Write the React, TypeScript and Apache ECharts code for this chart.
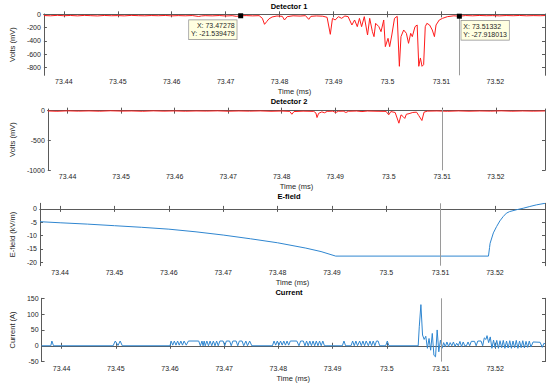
import React, { useEffect, useRef } from "react";
import * as echarts from "echarts";

const X_MIN = 73.4363;
const X_MAX = 73.5292;
const xTicks = [73.44, 73.45, 73.46, 73.47, 73.48, 73.49, 73.5, 73.51, 73.52];
const cursorT = 73.51332;

const titles = ["Detector 1", "Detector 2", "E-field", "Current"];
const yNames = ["Volts (mV)", "Volts (mV)", "E-field (kV/m)", "Current (A)"];
const yTicks1 = [-800, -600, -400, -200, 0];
const yTicks2 = [-1000, -500, 0];
const yTicks3 = [-20, -15, -10, -5, 0];
const yTicks4 = [-50, 0, 50, 100, 150];

const det1: [number, number][] = [
  [73.4363, -18], [73.4375, -22], [73.4388, -15], [73.44, -21], [73.4412, -17], [73.4425, -23],
  [73.4438, -16], [73.445, -20], [73.4462, -24], [73.4475, -17], [73.4488, -21], [73.45, -19],
  [73.4512, -23], [73.4525, -16], [73.4538, -20], [73.455, -22], [73.4562, -18], [73.4575, -21],
  [73.4588, -17], [73.46, -23], [73.4612, -19], [73.4625, -22], [73.4638, -18], [73.465, -32],
  [73.4655, -24], [73.4662, -20], [73.4675, -23], [73.4688, -18], [73.47, -25], [73.4712, -20],
  [73.472, -30], [73.47278, -21.539479], [73.4738, -19], [73.475, -23], [73.4762, -20],
  [73.4768, -60], [73.4772, -150], [73.4776, -110], [73.478, -70], [73.4786, -40], [73.4795, -25],
  [73.4805, -30], [73.4809, -85], [73.4814, -35], [73.4825, -22], [73.4838, -26], [73.4848, -20],
  [73.4854, -75], [73.4858, -30], [73.4868, -24], [73.488, -28], [73.4888, -45], [73.4894, -300],
  [73.4898, -60], [73.4903, -85], [73.4909, -35], [73.4915, -60], [73.4921, -25], [73.4927, -35],
  [73.4934, -160], [73.4939, -85], [73.4944, -185], [73.4948, -60], [73.4952, -185], [73.4957, -35],
  [73.4963, -310], [73.4967, -60], [73.4972, -260], [73.4975, -335], [73.4978, -135], [73.4984, -185],
  [73.4988, -260], [73.4993, -85], [73.4996, -485], [73.5001, -360], [73.5004, -485], [73.5008, -310],
  [73.5013, -60], [73.5018, -30], [73.5022, -780], [73.5025, -335], [73.503, -235], [73.5035, -285],
  [73.5039, -435], [73.5043, -285], [73.5046, -335], [73.5051, -185], [73.5055, -160], [73.5058, -780],
  [73.5061, -655], [73.5064, -780], [73.5067, -755], [73.507, -185], [73.5073, -135], [73.5078, -160],
  [73.5083, -235], [73.5087, -335], [73.509, -160], [73.5096, -85], [73.5102, -60], [73.5111, -35],
  [73.5123, -22], [73.51332, -27.918013], [73.5145, -18], [73.5158, -22], [73.517, -17], [73.5183, -21],
  [73.5195, -19], [73.5208, -23], [73.522, -18], [73.5233, -21], [73.5245, -17], [73.5258, -22],
  [73.527, -19], [73.5283, -21], [73.5292, -18],
];

const det2: [number, number][] = [
  [73.4363, -5], [73.438, -10], [73.44, -3], [73.442, -8], [73.444, -4], [73.446, -9], [73.448, -2],
  [73.45, -7], [73.452, -5], [73.454, -10], [73.456, -3], [73.458, -8], [73.46, -4], [73.462, -9],
  [73.464, -5], [73.466, -7], [73.468, -3], [73.47, -9], [73.472, -5], [73.474, -8], [73.476, -4],
  [73.478, -10], [73.48, -6], [73.4815, -12], [73.4819, -60], [73.4823, -15], [73.484, -8],
  [73.486, -12], [73.4864, -40], [73.4866, -115], [73.4869, -45], [73.4875, -20], [73.488, -35],
  [73.4885, -12], [73.4895, -8], [73.4901, -30], [73.4906, -10], [73.4915, -8], [73.492, -30],
  [73.4925, -10], [73.494, -6], [73.495, -15], [73.496, -6], [73.498, -10], [73.4995, -12],
  [73.5, -70], [73.5004, -15], [73.5012, -30], [73.5019, -210], [73.5023, -70], [73.5027, -100],
  [73.503, -130], [73.5033, -60], [73.5038, -50], [73.5045, -30], [73.5052, -25], [73.5056, -80],
  [73.5062, -165], [73.5066, -25], [73.5072, -8], [73.509, -5], [73.511, -10], [73.513, -4],
  [73.515, -9], [73.517, -5], [73.519, -8], [73.521, -3], [73.523, -9], [73.525, -5], [73.527, -8],
  [73.5292, -5],
];

const efield: [number, number][] = [
  [73.4363, -4.8], [73.44, -5.2], [73.445, -5.7], [73.45, -6.3], [73.455, -6.9], [73.46, -7.6],
  [73.465, -8.6], [73.47, -9.8], [73.475, -11.2], [73.48, -12.7], [73.4852, -14.7], [73.488, -16.0],
  [73.4907, -17.7], [73.5188, -17.7], [73.519, -14.5], [73.5191, -12.9], [73.5197, -9.0],
  [73.5203, -6.6], [73.5209, -4.5], [73.5215, -2.9], [73.5221, -1.6], [73.5227, -1.0],
  [73.524, -0.3], [73.5252, 0.25], [73.5264, 0.9], [73.5276, 1.5], [73.5292, 2.1],
];

const current: [number, number][] = [
  [73.4363, 0], [73.438, 0], [73.4382, 15], [73.4385, 0],
  [73.4495, 0], [73.4499, 15], [73.4504, 1], [73.4508, 15], [73.4512, 0],
  [73.46, 0], [73.4602, 15], [73.4605, 2], [73.4608, 15], [73.4611, 2], [73.4614, 15], [73.4617, 2],
  [73.462, 15], [73.4623, 2], [73.4626, 15], [73.463, 2], [73.4634, 15], [73.4653, 15], [73.4656, 0],
  [73.4659, 15], [73.4661, 0], [73.4663, 15], [73.4665, 0], [73.4668, 15], [73.4671, 0], [73.4674, 15],
  [73.4677, 0], [73.468, 15], [73.4683, 0], [73.4686, 15], [73.4689, 0], [73.4692, 15], [73.4698, 15],
  [73.4701, 0], [73.4704, 15], [73.471, 15], [73.4713, 0], [73.4716, 15], [73.4722, 15], [73.4725, 0],
  [73.4728, 15], [73.4733, 15], [73.4736, 0], [73.474, 15], [73.4743, 0], [73.4747, 15], [73.4751, 0],
  [73.4789, 0], [73.4792, 15], [73.4795, 2], [73.4798, 15], [73.4801, 2], [73.4804, 15], [73.4807, 2],
  [73.481, 15], [73.4813, 2], [73.4816, 15], [73.4819, 2], [73.4822, 15], [73.4834, 15], [73.4838, 0],
  [73.4841, 15], [73.4846, 15], [73.4849, 0], [73.4852, 15], [73.4855, 0], [73.4858, 15], [73.4861, 0],
  [73.4864, 15], [73.4867, 0], [73.487, 15], [73.4873, 0], [73.4876, 15], [73.4879, 0], [73.4882, 15],
  [73.4885, 0], [73.4888, 0],
  [73.4918, 0], [73.4921, 15], [73.4924, 0],
  [73.4934, 0], [73.4937, 15], [73.494, 0], [73.4943, 15], [73.4946, 0], [73.495, 15], [73.4953, 0],
  [73.4956, 15], [73.4959, 0], [73.4962, 15], [73.4966, 0], [73.4969, 15], [73.4972, 0], [73.4975, 15],
  [73.4978, 0], [73.4981, 15], [73.4984, 15], [73.4987, 0],
  [73.4998, 0], [73.5001, 15], [73.5004, 0],
  [73.5058, 0], [73.506, 60], [73.5063, 130], [73.5066, 34], [73.5069, 20], [73.5072, 30], [73.5075, -8],
  [73.5078, 23], [73.5081, -14], [73.5084, 39], [73.5087, -30], [73.509, -35], [73.5093, 50],
  [73.5096, -19], [73.5099, 18], [73.5102, -8], [73.5105, 10], [73.5108, -3], [73.5111, 12],
  [73.5114, -2], [73.5117, 10], [73.512, 0], [73.5123, 12], [73.5126, -2], [73.5129, 8], [73.5132, 0],
  [73.5135, 14], [73.5138, -3], [73.5141, 12], [73.5144, 0], [73.5147, 0], [73.515, 12], [73.5153, 0],
  [73.5156, 14], [73.5162, 14], [73.5165, 0], [73.5168, 15], [73.5174, 15], [73.5177, 0], [73.518, 25],
  [73.5183, 20], [73.5185, 32], [73.5188, 10], [73.5191, 28], [73.5194, -8], [73.5197, 18],
  [73.52, -6], [73.5203, 17], [73.5206, -8], [73.5209, 16], [73.5212, -6], [73.5215, 17], [73.5218, -8],
  [73.5221, 15], [73.5224, -7], [73.5227, 16], [73.523, -8], [73.5233, 15], [73.5236, -6], [73.5239, 17],
  [73.5242, -8], [73.5245, 15], [73.5248, -6], [73.5251, 16], [73.5254, -7], [73.5257, 14], [73.526, -5],
  [73.5263, 15], [73.5266, -4], [73.527, 12], [73.5283, 11], [73.5287, -5], [73.529, 8], [73.5292, 6],
];

const FONT = "'Liberation Sans', Arial, Helvetica, sans-serif";
const AX = "#5a5a5a";
const TXT = "#262626";

export default function App() {
  const ref = useRef<HTMLDivElement>(null);
  useEffect(() => {
    if (!ref.current) return;
    const chart = echarts.init(ref.current, undefined, { renderer: "svg" });
    const panels = [
      { top: 14, height: 61.3, min: -915, max: 5, ticks: yTicks1, data: det1, color: "#ff1a1a", gap: 17, titleY: 6 },
      { top: 109, height: 61.3, min: -1000, max: 28, ticks: yTicks2, data: det2, color: "#ff1a1a", gap: 22, titleY: 101 },
      { top: 203.3, height: 62.4, min: -21.3, max: 2.1, ticks: yTicks3, data: efield, color: "#2f86d0", gap: 15, titleY: 196.7 },
      { top: 298.3, height: 63.3, min: -50, max: 150, ticks: yTicks4, data: current, color: "#2f86d0", gap: 18, titleY: 292.3 },
    ];
    const grid: any[] = [];
    const xAxis: any[] = [];
    const yAxis: any[] = [];
    const series: any[] = [];
    const graphic: any[] = [];
    const lineAx = { show: true, lineStyle: { color: AX, width: 1 } };
    panels.forEach((p, i) => {
      grid.push({ left: 33, right: 5, top: p.top, height: p.height });
      const tick = { show: true, inside: true, length: 3, customValues: xTicks, lineStyle: { color: AX, width: 1 } };
      xAxis.push({
        type: "value", gridIndex: i, min: X_MIN, max: X_MAX, position: "bottom",
        axisLine: lineAx, axisTick: tick, splitLine: { show: false },
        axisLabel: {
          show: true, customValues: xTicks, fontSize: 7, color: TXT, margin: 3, fontFamily: FONT,
          formatter: (v: number) => String(+v.toFixed(2)),
        },
        name: "Time (ms)", nameLocation: "middle", nameGap: 12.5,
        nameTextStyle: { fontSize: 7.5, color: TXT, fontFamily: FONT },
      });
      xAxis.push({
        type: "value", gridIndex: i, min: X_MIN, max: X_MAX, position: "top",
        axisLine: lineAx, axisTick: tick, axisLabel: { show: false }, splitLine: { show: false },
      });
      const ytick = { show: true, inside: true, length: 3, customValues: p.ticks, lineStyle: { color: AX, width: 1 } };
      yAxis.push({
        type: "value", gridIndex: i, min: p.min, max: p.max, position: "left",
        axisLine: lineAx, axisTick: ytick, splitLine: { show: false },
        axisLabel: {
          show: true, customValues: p.ticks, fontSize: 7, color: TXT, margin: 3, fontFamily: FONT,
          formatter: (v: number) => String(v),
        },
        name: yNames[i], nameLocation: "middle", nameGap: p.gap,
        nameTextStyle: { fontSize: 7.5, color: TXT, fontFamily: FONT },
      });
      yAxis.push({
        type: "value", gridIndex: i, min: p.min, max: p.max, position: "right",
        axisLine: lineAx, axisTick: ytick, axisLabel: { show: false }, splitLine: { show: false },
      });
      const s: any = {
        type: "line", xAxisIndex: 2 * i, yAxisIndex: 2 * i, data: p.data, showSymbol: false,
        lineStyle: { color: p.color, width: 1 }, itemStyle: { color: p.color }, z: 3,
        markLine: {
          silent: true, symbol: ["none", "none"], label: { show: false },
          lineStyle: { color: "#9a9a9a", width: 1, type: "solid" },
          data: i === 0
            ? [[{ coord: [cursorT, -27.918013] }, { coord: [cursorT, p.min] }]]
            : [{ xAxis: cursorT }],
        },
      };
      if (i === 0) {
        const lbl = {
          show: true, fontSize: 7, lineHeight: 8, color: TXT, fontFamily: FONT,
          backgroundColor: "#ffffe1", borderColor: "#8c8c8c", borderWidth: 0.7, padding: [1.5, 2],
          verticalAlign: "top",
        };
        s.markPoint = {
          silent: true, symbol: "rect", symbolSize: 5, itemStyle: { color: "#000" },
          data: [
            { coord: [73.47278, -21.539479], label: { ...lbl, formatter: "X: 73.47278\nY: -21.539479", position: [-1.5, 7], align: "right" } },
            { coord: [cursorT, -27.918013], label: { ...lbl, formatter: "X: 73.51332\nY: -27.918013", position: [4.5, 7], align: "left" } },
          ],
        };
      }
      series.push(s);
      graphic.push({
        type: "text", x: 289, y: p.titleY,
        style: { text: titles[i], fontSize: 7.5, fontWeight: "bold", fill: "#000", fontFamily: FONT, align: "center", verticalAlign: "middle" },
      });
    });
    chart.setOption({
      animation: false,
      backgroundColor: "#fff",
      textStyle: { fontFamily: FONT },
      grid, xAxis, yAxis, series, graphic,
    });
    return () => chart.dispose();
  }, []);
  return <div ref={ref} style={{ position: "absolute", left: 0, top: 0, width: 550, height: 386 }} />;
}
